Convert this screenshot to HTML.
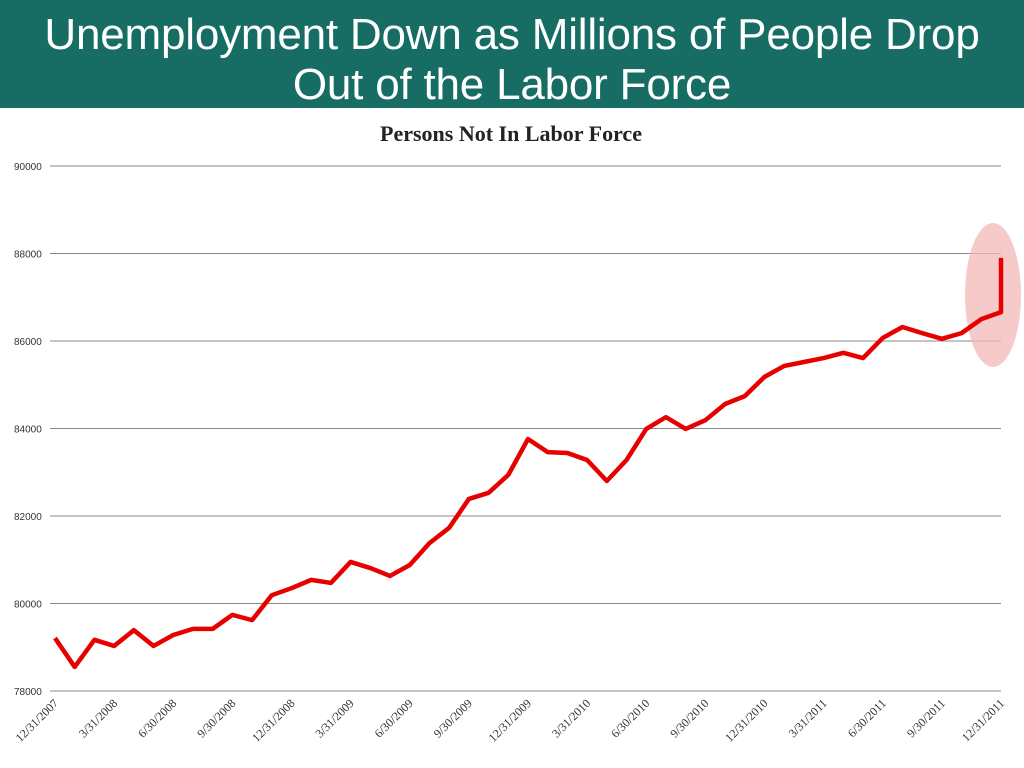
<!DOCTYPE html>
<html><head><meta charset="utf-8"><style>
body{margin:0;width:1024px;height:768px;background:#fff;overflow:hidden;font-family:"Liberation Sans",sans-serif}
#banner{position:absolute;left:0;top:0;width:1024px;height:108px;background:#176d64;color:#fff;text-align:center;font-size:44px;line-height:50px;padding-top:10px;box-sizing:border-box;letter-spacing:-0.2px}
</style></head><body>
<div id="banner">Unemployment Down as Millions of People Drop<br>Out of the Labor Force</div>
<svg id="chart" width="1024" height="768" style="position:absolute;left:0;top:0"></svg>
<script>
const categories=["12/31/2007","3/31/2008","6/30/2008","9/30/2008","12/31/2008","3/31/2009","6/30/2009","9/30/2009","12/31/2009","3/31/2010","6/30/2010","9/30/2010","12/31/2010","3/31/2011","6/30/2011","9/30/2011","12/31/2011"];
const values=[79210,78550,79170,79030,79390,79030,79280,79420,79420,79740,79620,80190,80350,80540,80470,80950,80810,80630,80880,81380,81730,82390,82530,82940,83760,83460,83440,83280,82800,83280,83990,84260,83990,84190,84560,84740,85180,85430,85520,85610,85730,85610,86070,86320,86180,86050,86180,86500,86660];
const finalValue=87900;
const yTicks=[78000,80000,82000,84000,86000,88000,90000];
const NS="http://www.w3.org/2000/svg";
const svg=document.getElementById('chart');
const x0=55,x1=1001,yTop=166,yBot=691,ymin=78000,ymax=90000;
const xs=i=>x0+(x1-x0)*i/(values.length-1);
const ys=v=>yBot-(v-ymin)/(ymax-ymin)*(yBot-yTop);
function mk(t,a){const e=document.createElementNS(NS,t);for(const k in a)e.setAttribute(k,a[k]);svg.appendChild(e);return e;}
let t=mk('text',{x:511,y:141,'text-anchor':'middle','font-family':'Liberation Serif,serif','font-size':22,'font-weight':'bold',fill:'#222'});
t.textContent='Persons Not In Labor Force';


yTicks.forEach(v=>{
  const l=mk('line',{x1:50,x2:1001,y1:ys(v),y2:ys(v),stroke:'#888','stroke-width':1});
  
  
  const tx=mk('text',{x:14,y:ys(v)+4,'font-size':10,fill:'#333'});
  tx.textContent=v;
  
  
});
categories.forEach((c,i)=>{
  const x=xs(i*3);
  const tx=mk('text',{x:x+4,y:704,'text-anchor':'end','font-family':'Liberation Serif,serif','font-size':12,fill:'#333',transform:`rotate(-45 ${x+4} 704)`});
  tx.textContent=c;
  
  
});
const el=mk('ellipse',{cx:993,cy:295,rx:28,ry:72,fill:'#f4b8b8',opacity:0.75});


let pts=values.map((v,i)=>xs(i)+','+ys(v));
pts.push(xs(values.length-1)+','+ys(finalValue));
const pl=mk('polyline',{points:pts.join(' '),fill:'none',stroke:'#e60000','stroke-width':4.5,'stroke-linejoin':'round'});


</script>
</body></html>
